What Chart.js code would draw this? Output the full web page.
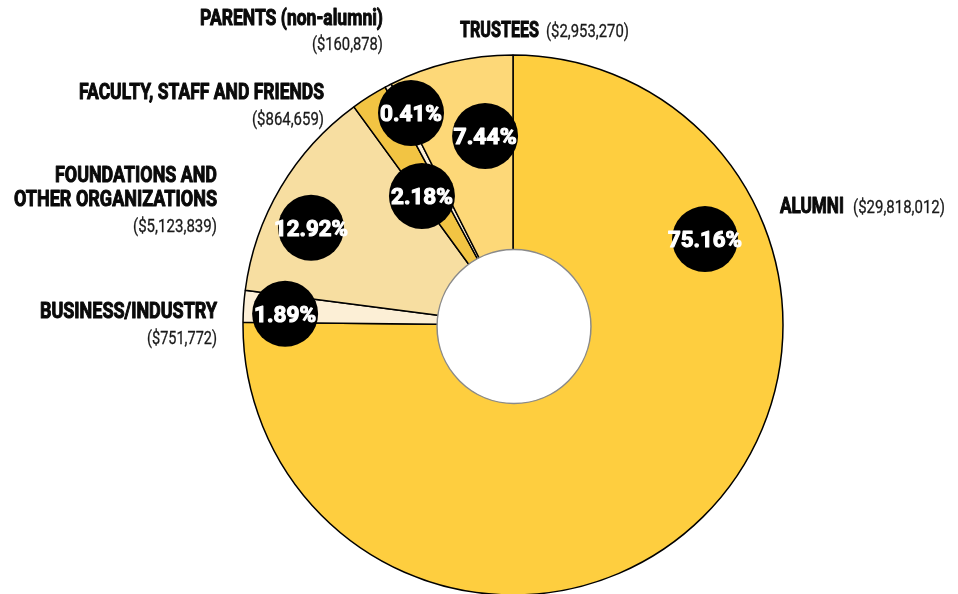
<!DOCTYPE html>
<html>
<head>
<meta charset="utf-8">
<script src="https://cdn.jsdelivr.net/npm/chart.js@4/dist/chart.umd.min.js"></script>
<style>
  html, body { margin: 0; padding: 0; background: #ffffff; }
  canvas { display: block; }
</style>
</head>
<body>
<canvas id="c" width="958" height="594"></canvas>
<script>
// ---- data ----
const categories = ["ALUMNI", "BUSINESS/INDUSTRY", "FOUNDATIONS AND OTHER ORGANIZATIONS",
                    "FACULTY, STAFF AND FRIENDS", "PARENTS (non-alumni)", "TRUSTEES"];
const amounts = [29818012, 751772, 5123839, 864659, 160878, 2953270];
const shares = [75.16, 1.89, 12.92, 2.18, 0.41, 7.44];
const sliceColors = ["#FECE3F", "#FCEFD6", "#F7DEA1", "#F2C443", "#FCEFD6", "#FDD878"];

function money(v) { return "($" + v.toLocaleString("en-US") + ")"; }

// placement of percentage badges: angle (deg, clockwise from 12 o'clock), radius as fraction of outer radius
const badgePlacement = [
  { a: 65.9, r: 0.779, w: 74 },
  { a: 272.8, r: 0.845, w: 62 },
  { a: 295.7, r: 0.83, w: 74 },
  { a: 324.8, r: 0.585, w: 62 },
  { a: 334.3, r: 0.871, w: 62 },
  { a: 351.6, r: 0.708, w: 63 }
];

// outer category labels (annotation text layout)
const outerLabels = [
  { i: 0, lines: [{ t: "ALUMNI", x: 780, y: 213, w: 64, align: "left" }],
    amt: { x: 853, y: 213, w: 92, align: "left" } },
  { i: 1, lines: [{ t: "BUSINESS/INDUSTRY", x: 217, y: 318, w: 177, align: "right" }],
    amt: { x: 217, y: 344, w: 70, align: "right" } },
  { i: 2, lines: [{ t: "FOUNDATIONS AND", x: 217, y: 182, w: 162, align: "right" },
                  { t: "OTHER ORGANIZATIONS", x: 217, y: 206, w: 203, align: "right" }],
    amt: { x: 217, y: 232, w: 84, align: "right" } },
  { i: 3, lines: [{ t: "FACULTY, STAFF AND FRIENDS", x: 324, y: 99, w: 245, align: "right" }],
    amt: { x: 324, y: 125, w: 72, align: "right" } },
  { i: 4, lines: [{ t: "PARENTS (non-alumni)", x: 383, y: 25, w: 183, align: "right" }],
    amt: { x: 383, y: 50, w: 71, align: "right" } },
  { i: 5, lines: [{ t: "TRUSTEES", x: 460, y: 37, w: 79, align: "left" }],
    amt: { x: 546, y: 37, w: 83, align: "left" } }
];

const BOLD = "bold 22px Roboto, 'Open Sans', 'DejaVu Sans', sans-serif";
const REG = "400 18px Roboto, 'Open Sans', 'DejaVu Sans', sans-serif";

function fitText(ctx, text, x, y, font, align, targetW, color, weightStroke) {
  ctx.save();
  ctx.font = font;
  ctx.fillStyle = color;
  ctx.textBaseline = "alphabetic";
  const m = ctx.measureText(text).width;
  const sx = targetW / m;
  ctx.translate(x, y);
  ctx.scale(sx, 1);
  ctx.textAlign = align;
  ctx.fillText(text, 0, 0);
  if (weightStroke) {
    ctx.lineJoin = "round";
    ctx.lineWidth = weightStroke;
    ctx.strokeStyle = color;
    ctx.strokeText(text, 0, 0);
  }
  ctx.restore();
}

const holePlugin = {
  id: "hole",
  afterDatasetsDraw(chart) {
    const arc = chart.getDatasetMeta(0).data[0];
    if (!arc) return;
    const ctx = chart.ctx;
    ctx.save();
    ctx.beginPath();
    ctx.arc(arc.x + 1, arc.y + 1.5, arc.outerRadius * 0.285, 0, Math.PI * 2);
    ctx.fillStyle = "#ffffff";
    ctx.fill();
    ctx.lineWidth = 1.5;
    ctx.strokeStyle = "#8a8a8a";
    ctx.stroke();
    ctx.restore();
  }
};

const labelPlugin = {
  id: "labels",
  afterDraw(chart) {
    const meta = chart.getDatasetMeta(0);
    const arc = meta.data[0];
    if (!arc) return;
    const ctx = chart.ctx;
    const R = arc.outerRadius;
    // badges
    badgePlacement.forEach((p, i) => {
      const ang = p.a * Math.PI / 180;
      const x = arc.x + p.r * R * Math.sin(ang);
      const y = arc.y - p.r * R * Math.cos(ang);
      ctx.save();
      ctx.beginPath();
      ctx.arc(x, y, 33, 0, Math.PI * 2);
      ctx.fillStyle = "#000000";
      ctx.fill();
      ctx.restore();
      fitText(ctx, shares[i].toFixed(2) + "%", x, y + 8, BOLD, "center", p.w, "#ffffff", 1.1);
    });
    // outer labels
    outerLabels.forEach(L => {
      L.lines.forEach(l => fitText(ctx, l.t, l.x, l.y, BOLD, l.align, l.w, "#0a0a0a", 1.0));
      fitText(ctx, money(amounts[L.i]), L.amt.x, L.amt.y, REG, L.amt.align, L.amt.w, "#1a1a1a", 0.3);
    });
  }
};

new Chart(document.getElementById("c"), {
  type: "pie",
  data: {
    labels: categories,
    datasets: [{
      data: amounts,
      backgroundColor: sliceColors,
      borderColor: "#000000",
      borderWidth: 1.5,
      clip: false
    }]
  },
  options: {
    responsive: false,
    devicePixelRatio: 1,
    animation: false,
    radius: 270,
    layout: { padding: { left: 68, top: 56, right: 0, bottom: 0 } },
    plugins: {
      legend: { display: false },
      tooltip: { enabled: false }
    }
  },
  plugins: [holePlugin, labelPlugin]
});
</script>
</body>
</html>
